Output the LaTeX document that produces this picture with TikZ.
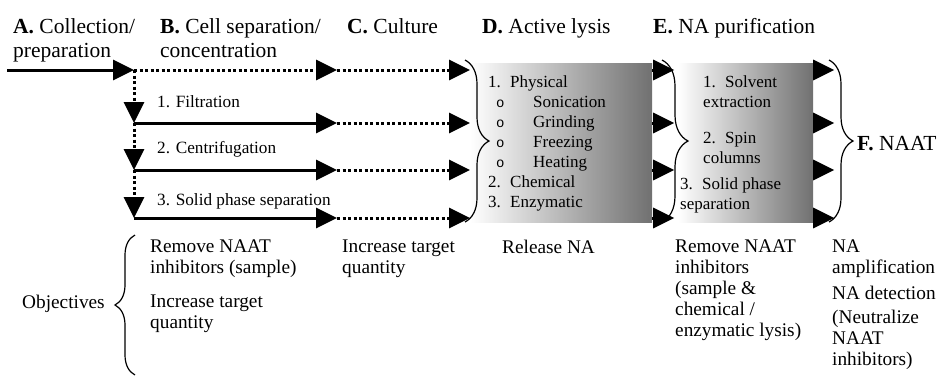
\documentclass[tikz,border=0pt]{standalone}
\usepackage{fontspec}
\setmainfont{Liberation Serif}
\newfontfamily\bulletfont{Liberation Mono}
\usetikzlibrary{arrows.meta,decorations.pathreplacing}
\newcommand{\lysisitem}[1]{\hspace*{8pt}\makebox[37pt][l]{\bulletfont\fontsize{14}{20}\selectfont o}#1}

\begin{document}
\begin{tikzpicture}[x=1pt, y=-1pt,
        flow/.style={line width=3pt, -{Triangle[length=21pt,width=20pt]}},
        dotflow/.style={flow, dash pattern=on 3pt off 2.5pt},
        stage/.style={inner sep=0pt, align=left, font=\fontsize{21.5}{24}\selectfont},
        step_label/.style={inner sep=0pt, anchor=base west, font=\fontsize{17.2}{20}\selectfont},
        boxtext/.style={inner sep=0pt, anchor=north west, align=left, font=\fontsize{17}{20}\selectfont},
        objective/.style={inner sep=0pt, anchor=north west, align=left, font=\fontsize{19.3}{21}\selectfont},
        curly/.style={decorate, decoration={brace, amplitude=24pt}, line width=1.2pt},
        shadebox/.style={rectangle, inner sep=0pt, minimum height=159pt, left color=white, right color=black!56}
    ]
        \useasboundingbox (0,0) rectangle (947,381);

        % Stage headers
        \node[stage, anchor=north west] (stage_a) at (13,18) {\textbf{A.} Collection/\\preparation};
        \node[stage, anchor=north west] (stage_b) at (160,18) {\textbf{B.} Cell separation/\\concentration};
        \node[stage, anchor=base west] (stage_c) at (347,33) {\textbf{C.} Culture};
        \node[stage, anchor=base west] (stage_d) at (482,33) {\textbf{D.} Active lysis};
        \node[stage, anchor=base west] (stage_e) at (653,33) {\textbf{E.} NA purification};

        % Lysis and purification boxes
        \node[shadebox, minimum width=182pt] (dbox) at (561,142.5) {};
        \node[shadebox, minimum width=135pt] (ebox) at (745.5,142.5) {};

        % Rows of the separation paths
        \foreach \i/\y in {0/70,1/123,2/170,3/218} {
            \coordinate (j\i) at (134,\y);
            \coordinate (m\i) at (337,\y);
            \coordinate (c\i) at (470,\y);
        }
        \coordinate (src) at (7,70);

        \draw[flow] (src) -- (j0);
        \draw[dotflow] (j0) -- (m0);
        \foreach \i/\p in {1/0,2/1,3/2} {
            \draw[dotflow] (j\p) -- (j\i);
            \draw[flow] (j\i) -- (m\i);
        }
        \foreach \i in {0,...,3} {
            \draw[dotflow] (m\i) -- (c\i);
            \draw[flow] (dbox.east |- j\i) -- ++(22,0);
            \draw[flow] (ebox.east |- j\i) -- ++(21,0);
        }

        \node[step_label] (sep_1) at (157,107) {1. Filtration};
        \node[step_label] (sep_2) at (157,153) {2. Centrifugation};
        \node[step_label] (sep_3) at (157,205) {3. Solid phase separation};

        % Braces
        \draw[curly] (465,60) -- (465,222);
        \draw[curly, decoration={amplitude=26pt}] (662,60) -- (662,222);
        \draw[curly] (829,60) -- (829,222);
        \node[stage, anchor=base west] (stage_f) at (857,150) {\textbf{F.} NAAT};

        % Box contents
        \node[boxtext] (lysis) at (488,75) {\makebox[22pt][l]{1.}Physical\\
            \lysisitem{Sonication}\\
            \lysisitem{Grinding}\\
            \lysisitem{Freezing}\\
            \lysisitem{Heating}\\
            \makebox[22pt][l]{2.}Chemical\\
            \makebox[22pt][l]{3.}Enzymatic};
        \node[boxtext] (purif_1) at (703,76) {\makebox[22pt][l]{1.}Solvent\\extraction};
        \node[boxtext] (purif_2) at (703,132) {\makebox[22pt][l]{2.}Spin\\columns};
        \node[boxtext] (purif_3) at (680,177) {\makebox[22pt][l]{3.}Solid phase\\separation};

        % Objectives
        \node[objective, anchor=base west] (obj) at (22,308) {Objectives};
        \draw[curly, decoration={amplitude=20pt}] (135,375) -- (135,235);
        \node[objective] (obj_b1) at (150,240) {Remove NAAT\\inhibitors (sample)};
        \node[objective] (obj_b2) at (150,295) {Increase target\\quantity};
        \node[objective] (obj_c) at (342,240) {Increase target\\quantity};
        \node[objective] (obj_d) at (502,240) {Release NA};
        \node[objective] (obj_e) at (675,240) {Remove NAAT\\inhibitors\\(sample \&\\chemical /\\enzymatic lysis)};
        \node[objective] (obj_f1) at (832,240) {NA\\amplification};
        \node[objective] (obj_f2) at (832,286) {NA detection};
        \node[objective] (obj_f3) at (832,310) {(Neutralize\\NAAT\\inhibitors)};
    \end{tikzpicture}
\end{document}
